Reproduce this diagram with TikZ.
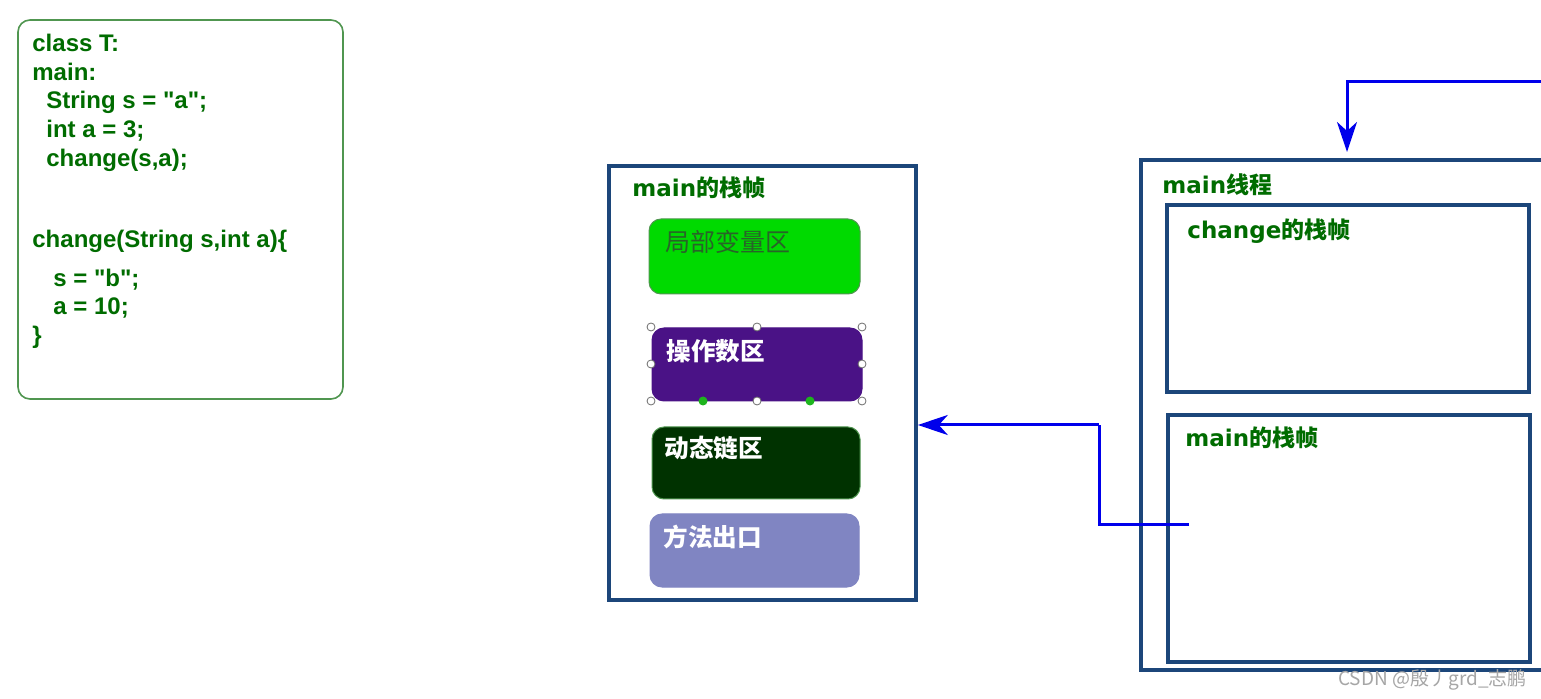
\documentclass[tikz,border=0pt]{standalone}
\usepackage{fontspec}
\setmainfont{Liberation Sans}[Ligatures=TeXOff]
\newfontfamily\cjk{Noto Sans CJK SC}
\newfontfamily\dvs{DejaVu Sans}
\usetikzlibrary{arrows.meta,shadows}
\definecolor{codegreen}{RGB}{0,108,0}
\definecolor{boxborder}{RGB}{80,150,80}
\definecolor{frameblue}{RGB}{28,70,122}
\definecolor{arrowblue}{RGB}{0,0,235}
\definecolor{localgreen}{RGB}{0,218,0}
\definecolor{localtext}{RGB}{40,100,40}
\definecolor{opviolet}{RGB}{74,18,134}
\definecolor{dyngreen}{RGB}{0,50,0}
\definecolor{exitblue}{RGB}{128,133,194}
\definecolor{handlegray}{RGB}{110,110,110}
\definecolor{handlegreen}{RGB}{30,180,30}
\tikzset{
  codeline/.style={anchor=base west, inner sep=0pt, text=codegreen, font=\fontsize{12}{14}\selectfont\bfseries},
  frame/.style={draw=frameblue, line width=1.8pt, fill=white, inner sep=0pt,
    drop shadow={shadow xshift=1.2pt, shadow yshift=-1.2pt, opacity=0.35}},
  framelabel/.style={anchor=west, inner sep=0pt, text=codegreen, font=\fontsize{11.5}{13}\selectfont\bfseries},
  area/.style={rounded corners=6pt, inner sep=0pt, line width=0.5pt},
  arealabel/.style={anchor=west, inner sep=0pt, font=\fontsize{12.3}{14}\cjk\bfseries},
  handle/.style={circle, draw=handlegray, fill=white, line width=0.4pt, inner sep=0pt, minimum size=4pt},
  ghandle/.style={circle, fill=handlegreen, inner sep=0pt, minimum size=4.5pt},
  arr/.style={draw=arrowblue, line width=1.5pt, -{Stealth[length=15pt,width=10pt,inset=4.5pt]}},
  wire/.style={draw=arrowblue, line width=1.5pt}
}
\begin{document}
\begin{tikzpicture}[x=0.5pt,y=-0.5pt]
\path[use as bounding box, clip] (0,0) rectangle (1541,699);
\fill[white] (0,0) rectangle (1541,699);

% code box
\node[draw=boxborder, line width=0.8pt, rounded corners=6pt, minimum width=162.5pt, minimum height=189.5pt, inner sep=0pt] (code) at (180.5,209.5) {};
\node[codeline] (c1) at (32,52) {class T:};
\node[codeline] (c2) at (32,81) {main:};
\node[codeline] (c3) at (46,109) {String s = "a";};
\node[codeline] (c4) at (46,138) {int a = 3;};
\node[codeline] (c5) at (46,167) {change(s,a);};
\node[codeline] (c6) at (32,248) {change(String s,int a)\{};
\node[codeline] (c7) at (53,287) {s = "b";};
\node[codeline] (c8) at (53,315) {a = 10;};
\node[codeline] (c9) at (32,344) {\}};

% left frame: main stack frame
\node[frame, minimum width=153.5pt, minimum height=217pt] (lframe) at (762.5,383) {};
\node[framelabel] (lflabel) at (632,188) {{\dvs main}{\cjk 的栈帧}};
\node[area, fill=localgreen, draw=boxborder, minimum width=105.5pt, minimum height=37.5pt] (local) at (754.5,256.5) {};
\node[anchor=west, inner sep=0pt, text=localtext, font=\fontsize{12.5}{14}\cjk] (localtxt) at (665,242) {局部变量区};
\node[area, fill=opviolet, draw=opviolet, minimum width=105pt, minimum height=36.5pt] (oper) at (757,364.5) {};
\node[arealabel, text=white] (opertxt) at (666,351) {操作数区};
\node[area, fill=dyngreen, draw=boxborder, minimum width=104pt, minimum height=36pt] (dyn) at (756,463) {};
\node[arealabel, text=white] (dyntxt) at (664,448) {动态链区};
\node[area, fill=exitblue, draw=exitblue, minimum width=104.5pt, minimum height=36.5pt] (exit) at (754.5,550.5) {};
\node[arealabel, text=white] (exittxt) at (663,537) {方法出口};

% selection handles
\node[handle] (h1) at (651,327) {};
\node[handle] (h2) at (757,327) {};
\node[handle] (h3) at (862,327) {};
\node[handle] (h4) at (651,364) {};
\node[handle] (h5) at (862,364) {};
\node[handle] (h6) at (651,401) {};
\node[handle] (h7) at (757,401) {};
\node[handle] (h8) at (862,401) {};
\node[ghandle] (g1) at (703,401) {};
\node[ghandle] (g2) at (810,401) {};

% right: main thread
\node[frame, minimum width=229.5pt, minimum height=255pt] (thread) at (1370.5,415) {};
\node[framelabel] (threadlabel) at (1162,185) {{\dvs main}{\cjk 线程}};
\node[frame, minimum width=181pt, minimum height=93.5pt] (chframe) at (1348,298.5) {};
\node[framelabel] (chlabel) at (1187,231) {{\dvs change}{\cjk 的栈帧}};
\node[frame, minimum width=181pt, minimum height=123.5pt] (mframe) at (1349,538.5) {};
\node[framelabel] (mlabel) at (1185,438) {{\dvs main}{\cjk 的栈帧}};

% arrows
\coordinate (t0) at (1560,82);
\coordinate (t1) at (1347,152);
\draw[arr] (t0) -| (t1);
\coordinate (p1) at (1189,525);
\coordinate (p2) at (1099,425);
\draw[wire] (p1) -| (p2);
\draw[arr] (p2) -- (p2 -| lframe.east);

% watermark
\node[anchor=east, inner sep=0pt, text=black!35, font=\fontsize{9.5}{10}\cjk] (wm) at (1527,680) {CSDN @殷丿grd\_志鹏};
\end{tikzpicture}
\end{document}
